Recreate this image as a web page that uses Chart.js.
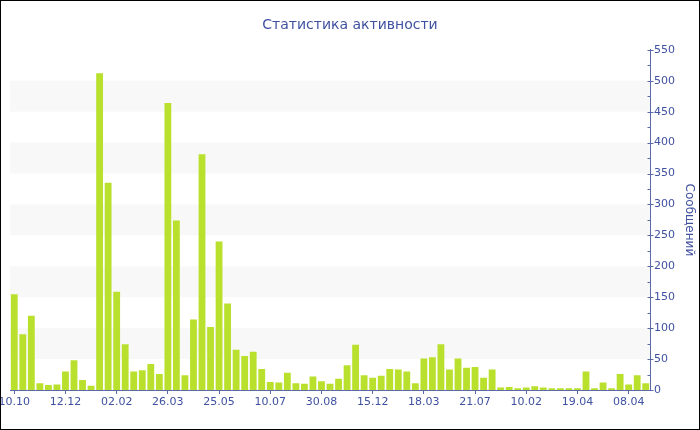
<!DOCTYPE html>
<html>
<head>
<meta charset="utf-8">
<script src="https://cdn.jsdelivr.net/npm/chart.js@4/dist/chart.umd.min.js"></script>
<style>
  html, body { margin: 0; padding: 0; background: #fff; }
  #wrap { width: 700px; height: 430px; position: relative; }
</style>
</head>
<body>
<div id="wrap"><canvas id="myChart" width="700" height="430"></canvas></div>
<script>
// подписи по оси X (каждый 6-й столбец)
const tickLabels = ['10.10', '12.12', '02.02', '26.03', '25.05', '10.07', '30.08',
  '15.12', '18.03', '21.07', '10.02', '19.04', '08.04']
const tickEvery = 6

// сообщений за период
const messages = [
  155, 90, 120, 11, 8, 9, 30, 48, 16, 7,
  512, 335, 159, 74, 30, 32, 42, 26, 464, 274,
  24, 114, 381, 102, 240, 140, 65, 55, 62, 34,
  13, 12, 28, 11, 10, 22, 14, 10, 18, 40,
  73, 24, 20, 23, 34, 33, 30, 11, 51, 53,
  74, 33, 51, 36, 37, 20, 33, 4, 5, 3,
  4, 6, 4, 3, 3, 3, 3, 30, 3, 12,
  3, 26, 9, 24, 11
]

const yMax = 550
const yStep = 50
const textColor = '#3f51a0'
const axisColor = '#5a6aa8'

const ctx = document.getElementById('myChart')

// полосы фона и засечки оси Y
const decorPlugin = {
  id: 'decor',
  beforeDatasetsDraw(chart) {
    const { ctx, chartArea } = chart
    const y = chart.scales.y
    ctx.save()
    ctx.fillStyle = '#f8f8f8'
    for (let v = yStep; v < yMax; v += yStep * 2) {
      const top = y.getPixelForValue(v + yStep)
      const bottom = y.getPixelForValue(v)
      ctx.fillRect(chartArea.left, top, chartArea.right - chartArea.left, bottom - top)
    }
    ctx.restore()
  },
  afterDraw(chart) {
    const { ctx, chartArea } = chart
    const y = chart.scales.y
    const x0 = Math.round(chartArea.right) + 0.5
    ctx.save()
    ctx.strokeStyle = axisColor
    ctx.lineWidth = 1
    ctx.beginPath()
    for (let v = 0; v <= yMax; v += yStep / 2) {
      const py = Math.round(y.getPixelForValue(v)) + 0.5
      if (v % yStep === 0) {
        ctx.moveTo(x0 - 3, py); ctx.lineTo(x0 + 3, py)
      } else {
        ctx.moveTo(x0 - 3, py); ctx.lineTo(x0, py)
      }
    }
    ctx.stroke()
    // рамка
    ctx.strokeStyle = '#000'
    ctx.strokeRect(0.5, 0.5, chart.width - 1, chart.height - 1)
    ctx.restore()
  }
}

new Chart(ctx, {
  type: 'bar',
  data: {
    labels: messages.map((v, i) => i),
    datasets: [{
      label: 'Сообщений',
      data: messages,
      backgroundColor: '#bae02e',
      borderWidth: 0,
      categoryPercentage: 1,
      barPercentage: 0.8,
    }]
  },
  plugins: [decorPlugin],
  options: {
    responsive: false,
    animation: false,
    layout: { padding: 0 },
    plugins: {
      legend: { display: false },
      tooltip: { enabled: false },
      title: {
        display: true,
        text: 'Статистика активности',
        color: textColor,
        font: { family: 'DejaVu Sans', size: 14, weight: 'normal' },
        padding: { top: 17, bottom: 16 },
      },
    },
    scales: {
      x: {
        offset: true,
        grid: {
          offset: false,
          drawOnChartArea: false,
          drawTicks: true,
          tickLength: 4,
          tickColor: c => (c.index % tickEvery === 0 ? axisColor : 'transparent'),
        },
        border: { display: true, color: axisColor },
        ticks: {
          autoSkip: false,
          maxRotation: 0,
          padding: 2,
          color: textColor,
          font: { family: 'DejaVu Sans', size: 11 },
          callback: (v, i) => (i % tickEvery === 0 ? tickLabels[i / tickEvery] : ''),
        },
        // левый отступ 10px, первая подпись обрезается краем
        afterFit: s => { s.paddingLeft = 10; s.paddingRight = 0; s.height = 40 },
      },
      y: {
        position: 'right',
        min: 0,
        max: yMax,
        grid: { display: false, drawTicks: false },
        border: { display: true, color: axisColor },
        ticks: {
          stepSize: yStep,
          padding: 4,
          color: textColor,
          font: { family: 'DejaVu Sans', size: 11 },
        },
        title: {
          display: true,
          text: 'Сообщений',
          color: textColor,
          font: { family: 'DejaVu Sans', size: 12 },
          padding: { top: 4, bottom: 4 },
        },
        afterFit: s => { s.width = 50 },
      },
    },
  },
})
</script>
</body>
</html>
